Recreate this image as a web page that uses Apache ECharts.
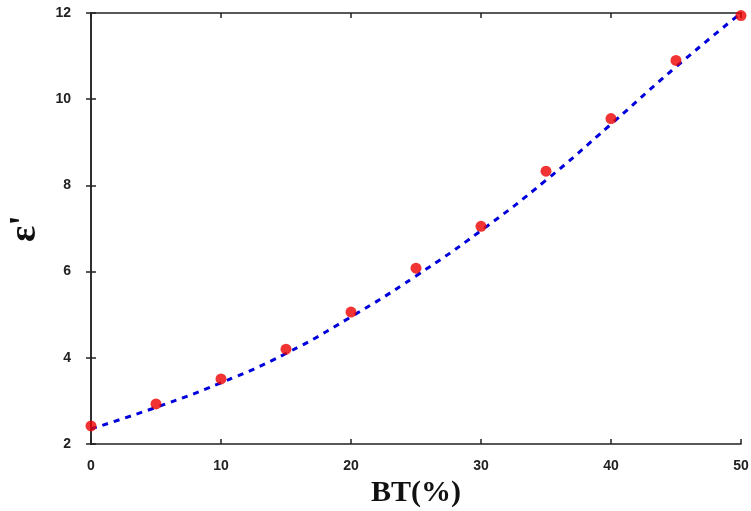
<!DOCTYPE html>
<html lang="en">
  <head>
    <meta charset="UTF-8" />
    <title>BT vs epsilon</title>
    <script src="https://cdn.jsdelivr.net/npm/echarts@6/dist/echarts.min.js"></script>
    <style>
      body { margin: 0; background: #fff; }
      #main { width: 751px; height: 511px; }
    </style>
  </head>
  <body>
    <div id="main"></div>
    <script type="text/javascript">
      // measured points (red dots)
      const btPct = [0, 5, 10, 15, 20, 25, 30, 35, 40, 45, 50]
      const epsMeasured = [2.42, 2.93, 3.51, 4.2, 5.06, 6.08, 7.05, 8.33, 9.55, 10.9, 11.94]
      // fitted curve (blue dashed)
      const fitX = [0, 5, 10, 15, 20, 25, 30, 35, 40, 45, 50]
      const fitY = [2.35, 2.85, 3.42, 4.1, 4.95, 5.9, 6.95, 8.12, 9.42, 10.75, 12.0]

      var chart = echarts.init(document.getElementById("main"))

      const axisLine = { show: true, lineStyle: { color: "#222", width: 1.5 } }
      const tickStyle = { show: true, inside: true, length: 5, lineStyle: { color: "#222", width: 1.5 } }
      const labelStyle = {
        color: "#222",
        fontFamily: "Liberation Sans",
        fontWeight: "bold",
        fontSize: 14,
      }

      const option = {
        animation: false,
        grid: { left: 91, right: 10, top: 13, bottom: 67, outerBoundsMode: "none", containLabel: false },
        xAxis: [
          {
            type: "value",
            min: 0,
            max: 50,
            interval: 10,
            axisLine: axisLine,
            axisTick: tickStyle,
            axisLabel: Object.assign({ margin: 15 }, labelStyle),
            splitLine: { show: false },
            name: "BT(%)",
            nameLocation: "middle",
            nameGap: 34,
            nameTextStyle: {
              fontFamily: "Liberation Serif",
              fontWeight: "bold",
              fontSize: 30,
              color: "#111",
            },
          },
          {
            type: "value",
            position: "top",
            min: 0,
            max: 50,
            interval: 10,
            axisLine: axisLine,
            axisTick: tickStyle,
            axisLabel: { show: false },
            splitLine: { show: false },
          },
        ],
        yAxis: [
          {
            type: "value",
            min: 2,
            max: 12,
            interval: 2,
            axisLine: axisLine,
            axisTick: tickStyle,
            axisLabel: Object.assign({ margin: 20 }, labelStyle),
            splitLine: { show: false },
            name: "\u03b5'",
            nameLocation: "middle",
            nameGap: 46,
            nameTextStyle: {
              fontFamily: "Liberation Serif",
              fontWeight: "bold",
              fontSize: 38,
              color: "#111",
            },
          },
          {
            type: "value",
            position: "right",
            min: 2,
            max: 12,
            interval: 2,
            axisLine: axisLine,
            axisTick: tickStyle,
            axisLabel: { show: false },
            splitLine: { show: false },
          },
        ],
        series: [
          {
            type: "line",
            data: fitX.map((x, i) => [x, fitY[i]]),
            smooth: true,
            showSymbol: false,
            lineStyle: { color: "#0000dd", width: 3, type: [6, 6] },
            z: 2,
          },
          {
            type: "scatter",
            data: btPct.map((x, i) => [x, epsMeasured[i]]),
            symbol: "circle",
            symbolSize: 11,
            itemStyle: { color: "#ee0000" },
            z: 3,
          },
        ],
      }

      chart.setOption(option)
    </script>
  </body>
</html>
